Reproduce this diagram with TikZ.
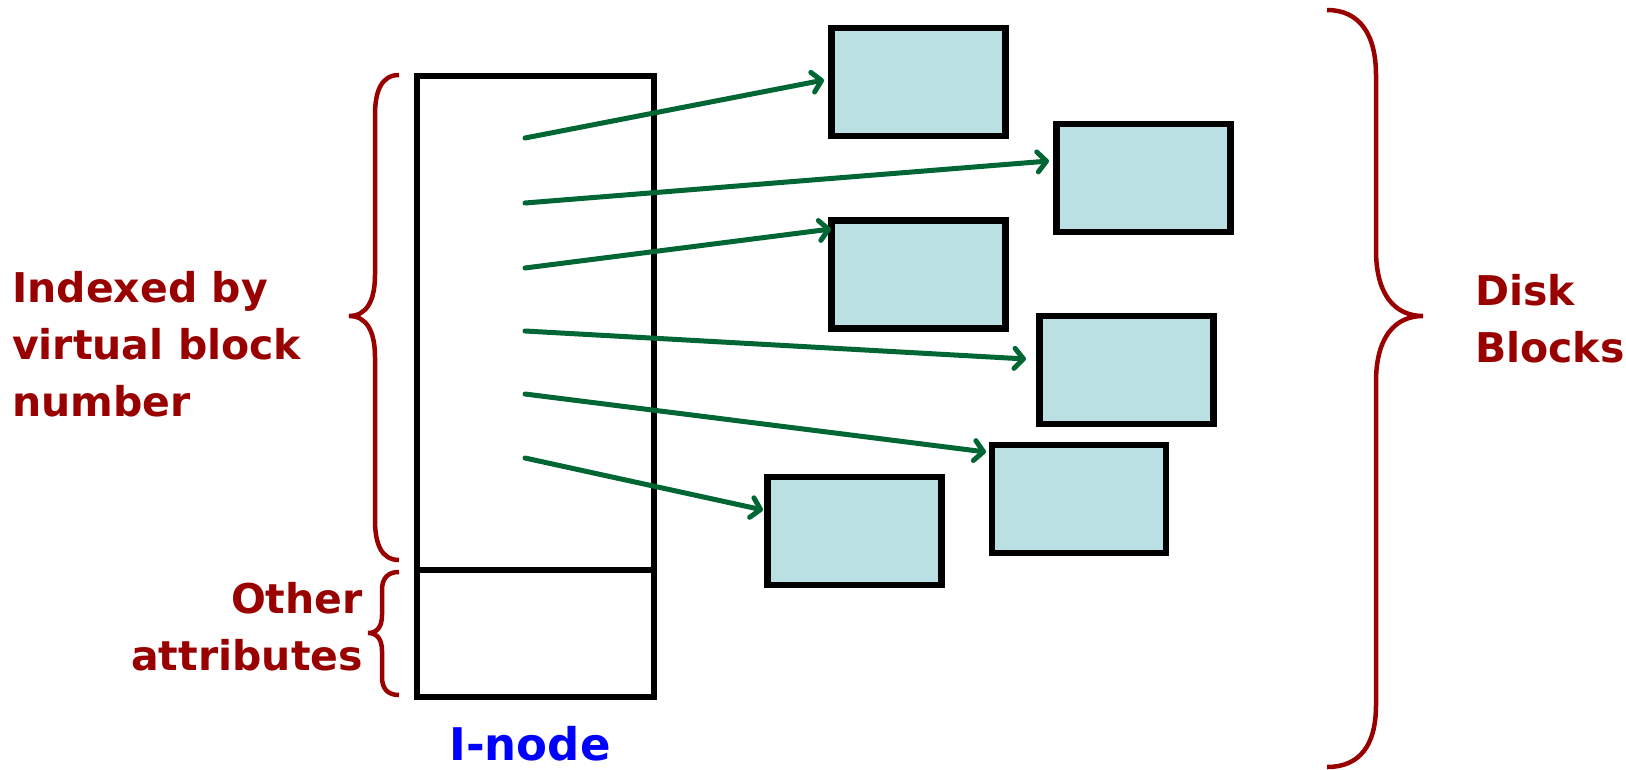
\documentclass[tikz,border=0pt]{standalone}
\usepackage{fontspec}
\setmainfont{DejaVu Sans}
\usetikzlibrary{arrows.meta}
\definecolor{dred}{RGB}{153,0,0}
\definecolor{agreen}{RGB}{0,102,51}
\definecolor{dfill}{RGB}{187,224,227}
\definecolor{iblue}{RGB}{0,0,255}
\tikzset{
  dblock/.style={draw=black, line width=6.5pt, fill=dfill, minimum width=174pt, minimum height=108pt, inner sep=0pt, outer sep=0pt},
  ibox/.style={draw=black, line width=6pt, inner sep=0pt, outer sep=0pt, minimum width=237pt},
  ptr/.style={draw=agreen, line width=5pt, line cap=round, -{Straight Barb[length=9pt,width=20pt,round]}},
  brc/.style={draw=dred, line width=4.5pt},
  lbl/.style={text=dred, font=\fontsize{41}{57}\selectfont\bfseries, inner sep=0pt},
}
\begin{document}
\begin{tikzpicture}[x=1pt,y=-1pt]
\useasboundingbox (0,0) rectangle (1626,769);
% I-node
\node[ibox, minimum height=494pt] (inodetop) at (535,323) {};
\node[ibox, minimum height=127pt] (inodebot) at (535,633.5) {};
% disk blocks
\node[dblock] (b1) at (918.5,82) {};
\node[dblock] (b2) at (1143.5,178) {};
\node[dblock] (b3) at (918.5,274.5) {};
\node[dblock] (b4) at (1126.5,370) {};
\node[dblock] (b5) at (1079,499) {};
\node[dblock] (b6) at (854.5,531) {};
% pointers
\coordinate (s1) at (525,138);
\coordinate (s2) at (525,203);
\coordinate (s3) at (525,268);
\coordinate (s4) at (525,331);
\coordinate (s5) at (525,394);
\coordinate (s6) at (525,458);
\coordinate (e1) at (824,80);
\coordinate (e2) at (1049,161);
\coordinate (e3) at (831,229);
\coordinate (e4) at (1026,359);
\coordinate (e5) at (986,452);
\coordinate (e6) at (763,510);
\draw[ptr] (s1) -- (e1);
\draw[ptr] (s2) -- (e2);
\draw[ptr] (s3) -- (e3);
\draw[ptr] (s4) -- (e4);
\draw[ptr] (s5) -- (e5);
\draw[ptr] (s6) -- (e6);
% braces
\draw[brc] (399,75) .. controls (381,75) and (375,92) .. (375,115) -- (375,275)
  .. controls (375,300) and (367,316) .. (349,316)
  .. controls (367,316) and (375,332) .. (375,357) -- (375,520)
  .. controls (375,543) and (381,560) .. (399,560);
\draw[brc] (399,572) .. controls (388,572) and (382,578) .. (382,590) -- (382,615)
  .. controls (382,627) and (377,633) .. (368,633)
  .. controls (377,633) and (382,639) .. (382,651) -- (382,677)
  .. controls (382,689) and (388,695) .. (399,695);
\draw[brc] (1327,10) .. controls (1360,10) and (1376,35) .. (1376,75) -- (1376,250)
  .. controls (1376,295) and (1395,316) .. (1423,316)
  .. controls (1395,316) and (1376,337) .. (1376,382) -- (1376,705)
  .. controls (1376,745) and (1360,767) .. (1327,767);
% labels
\node[lbl, anchor=north west, align=left] (idx) at (12,271) {Indexed by\\virtual block\\number};
\node[lbl, anchor=north east, align=right] (oth) at (363,582) {Other\\attributes};
\node[lbl, anchor=north west, align=left] (dsk) at (1475,274) {Disk\\Blocks};
\node[lbl, text=iblue, font=\fontsize{45}{54}\selectfont\bfseries, anchor=north] (inl) at (530,726) {I-node};
\end{tikzpicture}
\end{document}
